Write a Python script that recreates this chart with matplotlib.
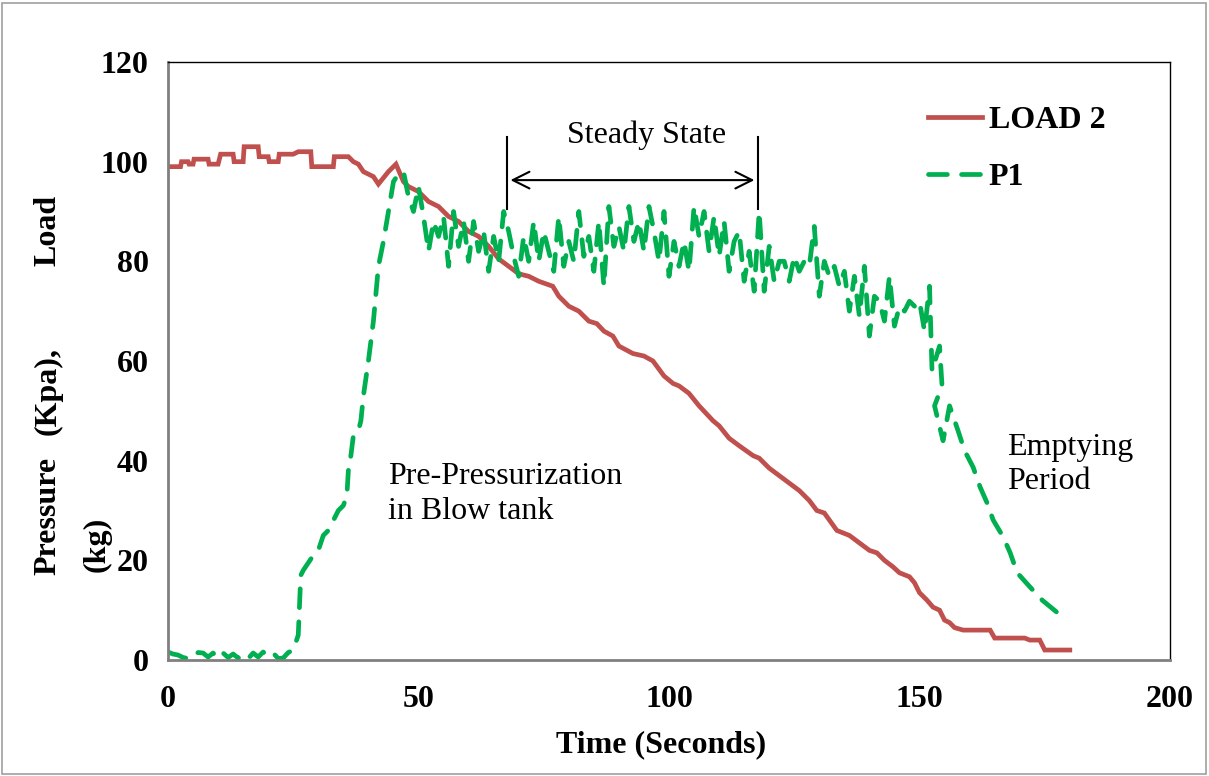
import matplotlib
matplotlib.use("Agg")
import matplotlib.pyplot as plt
from matplotlib.patches import Rectangle

# ---------------- data ----------------
load_t = [0, 2.5, 2.7, 4, 4.2, 5, 5.2, 8, 8.2, 10, 10.5, 13, 13.2, 15, 15.2, 18, 18.2, 20,
          20.2, 22, 22.2, 25, 26, 28.5, 28.7, 33, 33.2, 36, 37, 38, 39, 41, 42, 44, 45.5,
          47, 48, 50, 52, 54, 56, 58, 60, 62, 64, 66, 68, 70, 72, 74, 76.8, 78, 80, 82,
          84, 85.6, 87, 88.8, 90, 92.8, 95, 96.8, 99, 100.8, 102, 104, 106, 108.8, 110,
          112, 114, 116.8, 118, 120, 122, 124, 126, 128, 129.5, 131, 133.5, 136, 138,
          140, 141.5, 143, 144.7, 146, 148, 149, 150, 151.5, 152.7, 154, 155, 156, 157,
          158.7, 164.1, 165, 171, 172, 174, 175, 180]
load_v = [99, 99, 100, 100, 99.5, 99.5, 100.5, 100.5, 99.5, 99.5, 101.5, 101.5, 100, 100,
          103, 103, 101, 101, 100, 100, 101.5, 101.5, 102, 102, 99, 99, 101, 101, 100,
          99.5, 98, 97, 95.5, 98, 99.5, 96, 95, 94, 92, 91, 89, 88, 86, 85, 83, 80.5, 79,
          77.5, 77, 76, 75, 73, 71, 70, 68, 67.5, 66, 65, 63, 61.5, 61, 60, 57, 55.5, 55,
          53.5, 51, 48, 47, 44.5, 43, 41, 40.5, 38.5, 37, 35.5, 34, 32, 30, 29.5, 26, 25,
          23.5, 22, 21.5, 20, 18.7, 17.5, 16.7, 15.5, 13.5, 12, 10.6, 10, 8, 7.5, 6.5, 6,
          6, 4.4, 4.4, 4, 4, 2, 2]

p1_t = [0, 1, 2, 3, 4, 5, 6, 7, 8, 9, 10, 11, 12, 13, 14, 15, 16, 17, 18, 19, 20, 21,
        22, 23, 24, 25, 26, 26.5, 27, 28, 29, 30, 31, 32, 33, 34, 35, 35.7, 36, 36.5, 37,
        38, 38.5, 39, 40, 41, 42, 43, 44, 45, 46, 47, 48, 49, 50, 51, 52, 53, 54, 55, 56,
        57, 58, 59, 60, 61, 62, 63, 64, 65, 66, 67, 68, 69, 70, 71, 72, 73, 74, 75, 76,
        77, 78, 79, 80, 81, 82, 83, 84, 85, 86, 87, 88, 89, 90, 91, 92, 93, 94, 95, 96,
        97, 98, 99, 100, 101, 102, 103, 104, 105, 106, 107, 108, 109, 110, 111, 112, 113,
        114, 115, 116, 117, 118, 119, 120, 121, 122, 123, 124, 125, 126, 127, 128, 129,
        130, 131, 132, 133, 134, 135, 136, 137, 138, 139, 140, 141, 142, 143, 144, 145,
        146, 147, 148, 149, 150, 151, 152, 152.5, 154, 154.5, 153, 154.7, 156, 157.7, 159,
        160.7, 162.1, 163.5, 164.7, 166.7, 168.1, 169.5, 172.1, 174.5, 177.4, 178.2, 179]
p1_v = [1.6, 1.2, 1.0, 0.5, 0.3, 0.5, 1.5, 1.4, 0.6, 1.4, 0.4, 1.4, 0.5, 1.2, 0.4, 1.0,
        0.3, 1.4, 0.6, 1.6, 0.8, 1.4, 0.3, 0.4, 1.5, 2.0, 5, 17, 18, 19.5, 21, 22, 25, 26,
        28, 30, 31, 33, 38, 41, 45, 46, 48, 53, 60, 68, 79, 84, 90, 96, 97.5, 98, 93, 90,
        95, 89, 82, 88, 85, 89, 79, 90, 83, 88, 80, 88, 82, 86, 78, 85, 80, 90, 86, 81,
        77, 85, 80, 88, 80, 86, 82, 78, 89, 79, 84, 80, 90, 81, 85, 78, 88, 75, 91, 83,
        87, 82, 91, 84, 88, 82, 91, 86, 80, 90, 77, 84, 79, 84, 78, 91, 85, 90, 82, 89,
        81, 88, 78, 84, 86, 76, 82, 74, 90, 74, 83, 76, 80, 80, 76, 81, 78, 80, 79, 87,
        73, 80, 77, 79, 75, 78, 70, 77, 69, 79, 65, 73, 72, 68, 77, 67, 71, 70, 72, 71,
        72, 66, 75, 58, 63, 55, 51, 44, 51, 46, 42, 38.7, 34.7, 31.5, 28.1, 24.7, 21.5,
        17.5, 14.6, 12.0, 9.6, 9.3, 8.6]

x_ticks = [0, 50, 100, 150, 200]
y_ticks = [0, 20, 40, 60, 80, 100, 120]

# ---------------- style ----------------
plt.rcParams['font.family'] = ['Liberation Serif', 'DejaVu Serif']
FS = 23
RED = '#C0504D'
GREEN = '#00B050'

W, H = 1209, 776
fig = plt.figure(figsize=(W / 100, H / 100), dpi=100)
fig.patch.set_facecolor('white')
fig.add_artist(Rectangle((2 / W, 2 / H), (W - 5) / W, (H - 5) / H, transform=fig.transFigure,
                         fill=False, edgecolor='#A0A0A0', linewidth=1.2))

ax = fig.add_axes([168 / W, (H - 660) / H, (1170 - 168) / W, (660 - 62) / H])

ax.plot(load_t, load_v, color=RED, linewidth=3.4, label='LOAD 2', solid_joinstyle='miter')
ax.plot(p1_t, p1_v, color=GREEN, linewidth=3.4, linestyle=(0, (4, 3)),
        dash_capstyle='round', label='P1')

ax.set_xlim(0, 200)
ax.set_ylim(0, 120)
ax.set_xticks(x_ticks)
ax.set_yticks(y_ticks)
ax.set_xticklabels([str(v) for v in x_ticks], fontsize=FS, fontweight='bold')
ax.set_yticklabels([str(v) for v in y_ticks], fontsize=FS, fontweight='bold')
ax.tick_params(axis='x', length=0, pad=18)
ax.tick_params(axis='y', length=0, pad=14)

for s in ['top', 'right']:
    ax.spines[s].set_color('black')
    ax.spines[s].set_linewidth(1.0)
for s in ['left', 'bottom']:
    ax.spines[s].set_color('#808080')
    ax.spines[s].set_linewidth(2.0)

# axis labels
fig.text(661 / W, 1 - 745 / H, 'Time (Seconds)', ha='center', va='center',
         fontsize=FS, fontweight='bold')
fig.text(48 / W, 1 - 575 / H, 'Pressure', rotation=90, ha='center',
         va='bottom', fontsize=FS, fontweight='bold')
fig.text(48 / W, 1 - 435 / H, '(Kpa),', rotation=90, ha='center',
         va='bottom', fontsize=FS, fontweight='bold')
fig.text(48 / W, 1 - 195 / H, 'Load', rotation=90, ha='center',
         va='top', fontsize=FS, fontweight='bold')
fig.text(97 / W, 1 - 572 / H, '(kg)', rotation=90, ha='center', va='bottom',
         fontsize=FS, fontweight='bold')

# legend
ax.legend(loc='upper left', bbox_to_anchor=((928 - 168) / (1170 - 168), 0.927),
          frameon=False, handlelength=1.7, handletextpad=0.2, borderpad=0,
          borderaxespad=0, labelspacing=0.87, prop={'weight': 'bold', 'size': FS})

# annotations
ax.text(95.6, 105.4, 'Steady State', ha='center', va='center', fontsize=FS)
ax.annotate('', xy=(67.8, 96.3), xytext=(117.6, 96.3),
            arrowprops=dict(arrowstyle='<->', color='black', lw=1.5, mutation_scale=30))
ax.plot([67.6, 67.6], [90.5, 105], color='black', lw=1.5)
ax.plot([117.7, 117.7], [90.5, 105], color='black', lw=1.5)
ax.text(44.0, 39.8, 'Pre-Pressurization\nin Blow tank', ha='left', va='top',
        fontsize=FS, linespacing=1.3)
ax.text(167.5, 45.5, 'Emptying\nPeriod', ha='left', va='top', fontsize=FS,
        linespacing=1.2)

fig.savefig('out.png', dpi=100, facecolor='white')
